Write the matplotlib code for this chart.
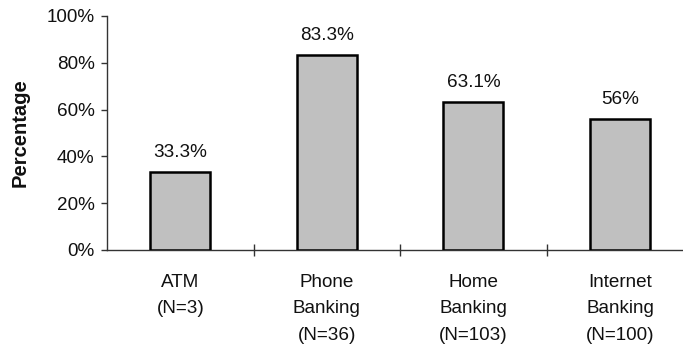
import matplotlib
matplotlib.use("Agg")
import matplotlib.pyplot as plt
from matplotlib.ticker import FuncFormatter, FixedLocator

# data
categories = ["ATM\n(N=3)", "Phone\nBanking\n(N=36)", "Home\nBanking\n(N=103)", "Internet\nBanking\n(N=100)"]
values = [33.3, 83.3, 63.1, 56.0]
value_labels = ["33.3%", "83.3%", "63.1%", "56%"]
y_ticks = [0, 20, 40, 60, 80, 100]

plt.rcParams["font.family"] = ["Liberation Sans", "DejaVu Sans"]
FS = 13.6

fig = plt.figure(figsize=(6.83, 3.46), dpi=100)
ax = fig.add_axes([0.1567, 0.2775, 0.8433, 0.6763])

x = list(range(len(values)))
bars = ax.bar(x, values, width=0.41, color="#c0c0c0", edgecolor="black", linewidth=1.8, zorder=3)

for b, lbl in zip(bars, value_labels):
    ax.annotate(lbl, (b.get_x() + b.get_width() / 2, b.get_height()),
                xytext=(0, 8), textcoords="offset points",
                ha="center", va="bottom", fontsize=FS, color="#111111")

ax.set_xlim(-0.5, 3.43)
ax.set_ylim(0, 100)
ax.set_yticks(y_ticks)
ax.yaxis.set_major_formatter(FuncFormatter(lambda v, p: f"{v:.0f}%"))
ax.set_xticks(x)
ax.set_xticklabels(categories, fontsize=FS, linespacing=1.75, color="#111111")
ax.xaxis.set_minor_locator(FixedLocator([0.5, 1.5, 2.5]))

ax.tick_params(axis="x", which="major", length=0, pad=17)
ax.tick_params(axis="x", which="minor", direction="inout", length=9, width=1, color="#333333")
ax.tick_params(axis="y", direction="out", length=4, width=1, color="#333333",
               labelsize=FS, labelcolor="#111111", pad=5)

for s in ["top", "right"]:
    ax.spines[s].set_visible(False)
for s in ["left", "bottom"]:
    ax.spines[s].set_color("#333333")
    ax.spines[s].set_linewidth(1.0)

ax.set_ylabel("Percentage", fontsize=14.5, fontweight="bold", labelpad=12, color="#111111")

fig.savefig("out.png", dpi=100)
